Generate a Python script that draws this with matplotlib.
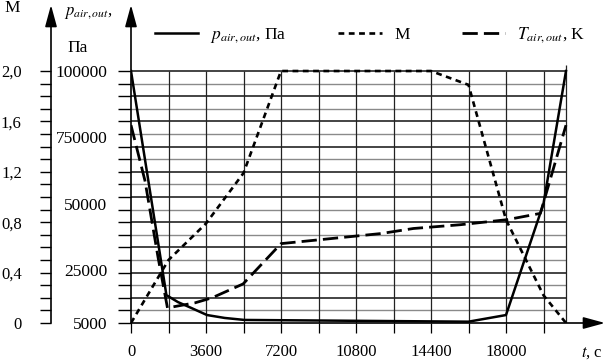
import numpy as np
import matplotlib
matplotlib.use('Agg')
import matplotlib.pyplot as plt

plt.rcParams['font.family'] = ['Liberation Serif', 'DejaVu Serif']
plt.rcParams['mathtext.fontset'] = 'stix'
plt.rcParams['font.size'] = 12

# pressure at the outlet, Pa
t_p = [0, 1700, 2250, 2900, 3650, 4500, 5450, 16200, 18000, 19800, 20880]
p_pa = [100000, 15500, 12900, 10650, 8000, 6900, 6150, 5500, 8000, 50000, 100000]

# Mach number
t_m = [0, 1800, 3600, 5400, 7200, 14400, 16200, 18000, 19800, 20880]
mach = [0, 0.50, 0.79, 1.19, 2.0, 2.0, 1.89, 0.82, 0.22, 0.0]

# outlet temperature, drawn against the M scale (no own axis in the figure)
t_T = [0, 670, 1300, 1750, 3070, 3890, 5380, 7200, 9000, 12000, 13550, 15800, 18050, 19650, 20880]
temp = [1.57, 1.13, 0.52, 0.12, 0.16, 0.20, 0.31, 0.63, 0.66, 0.71, 0.75, 0.78, 0.82, 0.87, 1.57]

t_end = 20880
x_major = [0, 3600, 7200, 10800, 14400, 18000]
x_minor = [1800, 5400, 9000, 12600, 16200, 19800]
m_ticks = [0, 0.4, 0.8, 1.2, 1.6, 2.0]
m_labels = ['0', '0,4', '0,8', '1,2', '1,6', '2,0']
p_ticks = [5000, 25000, 50000, 75000, 100000]
p_labels = ['5000', '25000', '50000', '750000', '100000']


def p_to_m(p):
    return (np.asarray(p, dtype=float) - 5000) / 47500


def m_to_p(m):
    return np.asarray(m, dtype=float) * 47500 + 5000


W, H = 608, 363
fig = plt.figure(figsize=(W / 100, H / 100), dpi=100)
y_top = 2.524
x_max = (605 - 131) * 48

ax = fig.add_axes([131 / W, 40 / H, (605 - 131) / W, 318 / H])
ax.set_xlim(0, x_max)
ax.set_ylim(0, y_top)
for s in ax.spines.values():
    s.set_visible(False)

# grid
levels = np.round(np.arange(0.1, 2.01, 0.1), 1)
for lv in levels:
    dark = int(round(lv * 10)) % 2 == 0
    ax.hlines(lv, 0, t_end, colors='#111111' if dark else '#8a8a8a',
              lw=1.1 if dark else 1.0, zorder=1)
ax.vlines(x_minor + x_major[1:], 0, 2.0, colors='#222222', lw=0.9, zorder=1)
ax.vlines(t_end, 0, 2.05, colors='#222222', lw=0.9, zorder=1)

# axes arrows
arrow = dict(arrowstyle='-|>,head_length=1.1,head_width=0.3', lw=1.2,
             color='k', shrinkA=0, shrinkB=0)
ax.annotate('', xy=(0, 1), xycoords='axes fraction', xytext=(0, 0), arrowprops=arrow)
ax.annotate('', xy=(1, 0), xycoords='axes fraction', xytext=(0, 0), arrowprops=arrow)

# ticks
ax.set_xticks(x_major)
ax.set_xticklabels([str(v) for v in x_major])
ax.set_xticks(x_minor, minor=True)
ax.tick_params(axis='x', which='both', length=7.2, width=0.9, pad=8)
ax.set_yticks(levels.tolist() + [0])
ax.set_yticklabels([])
ax.tick_params(axis='y', length=9.4, width=1.0)

sec = ax.secondary_yaxis('left', functions=(m_to_p, p_to_m))
sec.set_yticks(p_ticks)
sec.set_yticklabels(p_labels)
sec.tick_params(length=0, pad=17, labelsize=12.5)
sec.spines['left'].set_visible(False)

# M axis
axm = fig.add_axes([51 / W, 40 / H, (131 - 51) / W, 318 / H])
axm.set_ylim(0, y_top)
axm.set_xlim(0, 1)
for s in axm.spines.values():
    s.set_visible(False)
axm.set_xticks([])
axm.set_yticks(np.arange(0, 2.01, 0.1), minor=True)
axm.set_yticks(m_ticks)
axm.set_yticklabels(m_labels)
axm.tick_params(axis='y', which='both', length=8, width=1.0, pad=13)
axm.annotate('', xy=(0, 1), xycoords='axes fraction', xytext=(0, 0), arrowprops=arrow)
axm.patch.set_alpha(0)

# data
ax.plot(t_p, p_to_m(p_pa), color='k', lw=1.8, zorder=3, label=r'$p_{air,out}$, Па')
ax.plot(t_m, mach, color='k', lw=1.9, ls=(0, (2.2, 1.7)), zorder=3, label='M')
ax.plot(t_T, temp, color='k', lw=2.0, ls=(0, (5.5, 2.2)), zorder=3,
        label=r'$T_{air,out}$, K')

fig.legend(loc='center left', bbox_to_anchor=(146 / W, 1 - 35 / H), ncol=3,
           frameon=False, borderpad=0, handlelength=2.5, handletextpad=0.7,
           columnspacing=3.0, fontsize=12.5)

fig.text(12 / W, 1 - 8 / H, 'M', ha='center', va='center', fontsize=12.5)
fig.text(88 / W, 1 - 13 / H, r'$p_{air,out}$,', ha='center', va='center', fontsize=12)
fig.text(78 / W, 1 - 48 / H, 'Па', ha='center', va='center', fontsize=12.5)
fig.text(592 / W, 1 - 353 / H, r'$t$, c', ha='center', va='center', fontsize=12)

fig.savefig('out.png', dpi=100)
